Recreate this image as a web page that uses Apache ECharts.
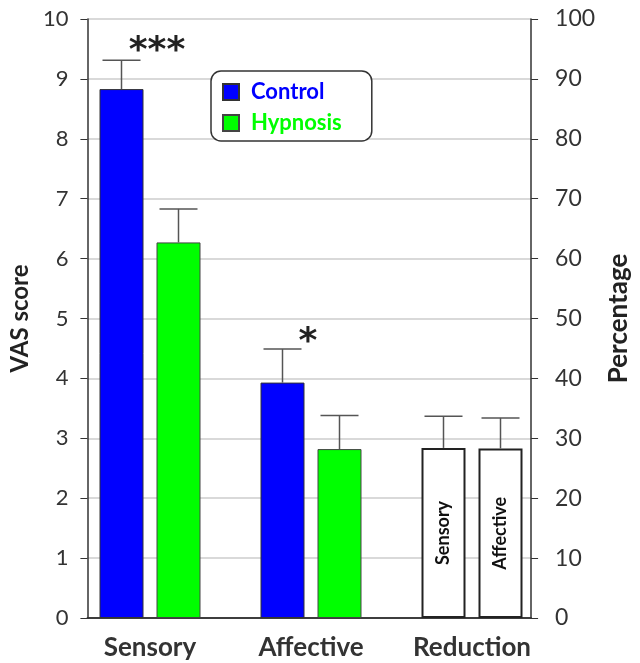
<!DOCTYPE html>
<html>
<head>
<meta charset="utf-8">
<script src="https://cdn.jsdelivr.net/npm/echarts@6/dist/echarts.min.js"></script>
<style>
html,body{margin:0;padding:0;background:#fff;}
#chart{width:640px;height:663px;}
</style>
</head>
<body>
<div id="chart"></div>
<script>
// ---- data ----
const categories = ['Sensory', 'Affective', 'Reduction'];
const controlMean = [8.83, 3.93];
const controlUpper = [9.31, 4.49];
const hypnosisMean = [6.27, 2.82];
const hypnosisUpper = [6.83, 3.38];
const reductionLabels = ['Sensory', 'Affective'];
const reductionPct = [28.4, 28.3];
const reductionUpper = [33.7, 33.4];
const leftTicks = [0, 1, 2, 3, 4, 5, 6, 7, 8, 9, 10];
const rightTicks = [0, 10, 20, 30, 40, 50, 60, 70, 80, 90, 100];
const starTexts = ['***', '*'];   // significance, per category (Sensory, Affective)

// ---- style ----
const FONT = 'Lato';
const BAR_W = 44;
const GAP = 13;
const BLUE = '#0000ff';
const GREEN = '#00ff00';
const STAR_DX = [7, -3];
const STAR_DY = [-9, -6];

const chart = echarts.init(document.getElementById('chart'));

function pad(arr) {
  return categories.map((c, i) => (i < arr.length ? arr[i] : '-'));
}
function redData(k) {
  return categories.map((c, i) => i === 2 ? {
    value: reductionPct[k],
    label: { formatter: reductionLabels[k] }
  } : '-');
}
function errData(upper, mean) {
  return upper.map((u, i) => [i, mean[i], u]);
}
function errRender(side) {
  return function (params, api) {
    const cat = api.value(0);
    const p0 = api.coord([cat, api.value(1)]);
    const p1 = api.coord([cat, api.value(2)]);
    const x = p0[0] + side * (BAR_W + GAP) / 2;
    const cap = 38;
    const style = { stroke: '#555', lineWidth: 1.5 };
    return {
      type: 'group',
      children: [
        { type: 'line', shape: { x1: x, y1: p0[1], x2: x, y2: p1[1] }, style },
        { type: 'line', shape: { x1: x - cap / 2, y1: p1[1], x2: x + cap / 2, y2: p1[1] }, style }
      ]
    };
  };
}

const hiddenY = (max) => ({ type: 'value', gridIndex: 1, min: 0, max: max, show: false });
const tickLabel = (list, size, margin) => ({
  fontFamily: FONT, fontSize: size, color: '#333', margin: margin,
  formatter: v => list.includes(v) ? String(v) : ''
});

const option = {
  animation: false,
  backgroundColor: '#fff',
  grid: [
    { left: 82, right: 87, top: 19, bottom: 45 },      // frame: axes & grid lines
    { left: 69.5, right: 87.5, top: 19, bottom: 45 }   // bars
  ],
  legend: {
    data: [
      { name: 'Control', textStyle: { color: BLUE } },
      { name: 'Hypnosis', textStyle: { color: GREEN } }
    ],
    orient: 'vertical',
    left: 211, top: 71,
    padding: [10, 30, 7, 11],
    itemWidth: 30, itemHeight: 16,
    itemGap: 9,
    borderColor: '#333', borderWidth: 1.5, borderRadius: 10,
    backgroundColor: '#fff',
    textStyle: { fontFamily: FONT, fontWeight: 'bold', fontSize: 22 },
    icon: 'path://M0,0h10v10h-10z'
  },
  xAxis: [
    { type: 'category', gridIndex: 0, data: categories,
      axisLine: { lineStyle: { color: '#333', width: 1.5 } },
      axisTick: { show: false }, axisLabel: { show: false } },
    { type: 'category', gridIndex: 0, position: 'top', data: categories,
      axisLine: { lineStyle: { color: '#333', width: 1.5 } },
      axisTick: { show: false }, axisLabel: { show: false } },
    { type: 'category', gridIndex: 1, data: categories,
      axisLine: { show: false }, axisTick: { show: false },
      axisLabel: { fontFamily: FONT, fontWeight: 'bold', fontSize: 26, color: '#333', margin: 17 } }
  ],
  yAxis: [
    {
      type: 'value', gridIndex: 0, min: 0, max: 10, interval: 1,
      name: 'VAS score', nameLocation: 'middle', nameGap: 50, nameRotate: 90,
      nameTextStyle: { fontFamily: FONT, fontWeight: 'bold', fontSize: 24, color: '#222' },
      axisLine: { show: true, lineStyle: { color: '#333', width: 1.5 } },
      axisTick: { show: true, length: 7, lineStyle: { color: '#333' } },
      axisLabel: tickLabel(leftTicks, 22, 19),
      splitLine: { show: true, lineStyle: { color: '#d9d9d9', width: 2 } }
    },
    {
      type: 'value', gridIndex: 0, min: 0, max: 100, interval: 10, position: 'right',
      name: 'Percentage', nameLocation: 'middle', nameGap: 66, nameRotate: 90,
      nameTextStyle: { fontFamily: FONT, fontWeight: 'bold', fontSize: 26, color: '#222' },
      axisLine: { show: true, lineStyle: { color: '#333', width: 1.5 } },
      axisTick: { show: true, length: 7, lineStyle: { color: '#333' } },
      axisLabel: tickLabel(rightTicks, 23, 24),
      splitLine: { show: false }
    },
    hiddenY(10),
    hiddenY(100)
  ],
  series: [
    {
      name: 'Control', type: 'bar', stack: 'a', barWidth: BAR_W, barGap: (GAP / BAR_W * 100) + '%',
      xAxisIndex: 2, yAxisIndex: 2, data: pad(controlMean),
      itemStyle: { color: BLUE, borderColor: '#333', borderWidth: 1 }
    },
    {
      name: 'Hypnosis', type: 'bar', stack: 'b', barWidth: BAR_W,
      xAxisIndex: 2, yAxisIndex: 2, data: pad(hypnosisMean),
      itemStyle: { color: GREEN, borderColor: '#444', borderWidth: 1 }
    },
    {
      name: 'Reduction Sensory', type: 'bar', stack: 'a', barWidth: BAR_W,
      xAxisIndex: 2, yAxisIndex: 3, data: redData(0),
      itemStyle: { color: '#fff', borderColor: '#222', borderWidth: 2 },
      label: { show: true, position: 'inside', rotate: 90, fontFamily: FONT, fontWeight: 'bold', fontSize: 18, color: '#111' }
    },
    {
      name: 'Reduction Affective', type: 'bar', stack: 'b', barWidth: BAR_W,
      xAxisIndex: 2, yAxisIndex: 3, data: redData(1),
      itemStyle: { color: '#fff', borderColor: '#222', borderWidth: 2 },
      label: { show: true, position: 'inside', rotate: 90, fontFamily: FONT, fontWeight: 'bold', fontSize: 18, color: '#111' }
    },
    { type: 'custom', xAxisIndex: 2, yAxisIndex: 2, renderItem: errRender(-1), data: errData(controlUpper, controlMean), z: 3 },
    { type: 'custom', xAxisIndex: 2, yAxisIndex: 2, renderItem: errRender(1), data: errData(hypnosisUpper, hypnosisMean), z: 3 },
    { type: 'custom', xAxisIndex: 2, yAxisIndex: 3, renderItem: errRender(-1), data: [[2, reductionPct[0], reductionUpper[0]]], z: 3 },
    { type: 'custom', xAxisIndex: 2, yAxisIndex: 3, renderItem: errRender(1), data: [[2, reductionPct[1], reductionUpper[1]]], z: 3 }
  ]
};
chart.setOption(option);

// significance stars, placed from the control error-bar tops
const g = starTexts.map((t, i) => {
  const p = chart.convertToPixel({ xAxisIndex: 2, yAxisIndex: 2 }, [i, controlUpper[i]]);
  return {
    type: 'text',
    x: p[0] + STAR_DX[i],
    y: p[1] + STAR_DY[i],
    style: { text: t, font: 'bold 36px "DejaVu Sans"', fill: '#222', textAlign: 'center', textVerticalAlign: 'middle' }
  };
});
chart.setOption({ graphic: g });
</script>
</body>
</html>
